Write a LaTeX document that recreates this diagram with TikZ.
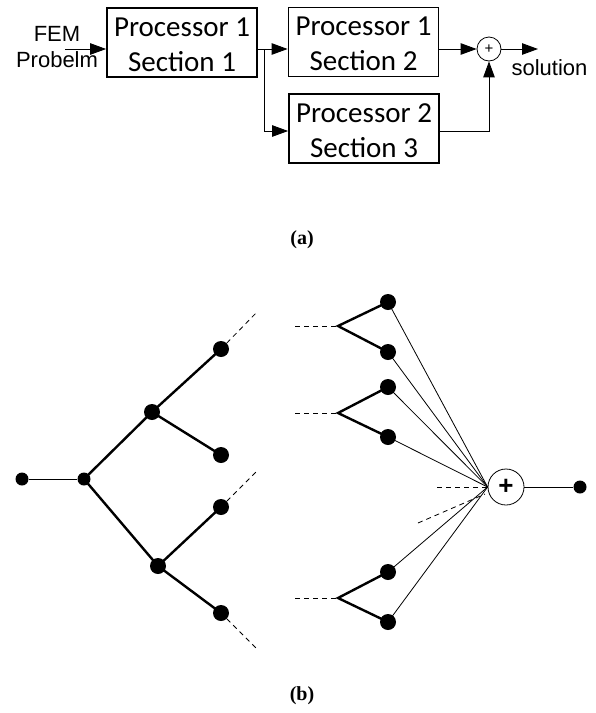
\documentclass[tikz,border=0pt]{standalone}
\usepackage{fontspec}
\setmainfont{Liberation Serif}
\newfontfamily\calfont{Carlito}
\newfontfamily\arialfont{Liberation Sans}
\usetikzlibrary{arrows.meta}
\newcommand{\topstrut}{\rule{0pt}{23pt}}
\begin{document}
\begin{tikzpicture}[x=1pt,y=-1pt,
  box/.style={draw, line width=1.8pt, minimum width=150pt, minimum height=69pt, inner sep=0pt, align=center, font=\calfont\fontsize{29}{35}\selectfont},
  conn/.style={line width=0.9pt},
  arr/.style={conn, -{Triangle[length=16pt,width=11.5pt]}},
  lbl/.style={font=\arialfont\fontsize{22}{26}\selectfont, align=center, inner sep=0pt},
  caplabel/.style={font=\bfseries\fontsize{20}{24}\selectfont, inner sep=0pt},
  bigdot/.style={circle, fill, inner sep=0pt, minimum size=16pt},
  smalldot/.style={circle, fill, inner sep=0pt, minimum size=13pt},
  treeedge/.style={line width=2.4pt},
  thinedge/.style={line width=0.8pt},
  dashedge/.style={line width=0.8pt, dash pattern=on 5pt off 4pt}
]
\useasboundingbox (0,0) rectangle (596,713);
% ---------- (a) ----------
\node[box] (p1) at (182,42.5) {\topstrut Processor 1\\Section 1};
\node[box] (p2) at (363.5,42) {\topstrut Processor 1\\Section 2};
\node[box] (p3) at (364,128.5) {\topstrut Processor 2\\Section 3};
\node[lbl] (fem) at (57,47) {FEM\\Probelm};
\coordinate (in) at (65,49);
\coordinate (j) at (264,49);
\coordinate (j3) at (264,131);
\node[circle, draw, line width=0.8pt, minimum size=24pt, inner sep=0pt, font=\arialfont\fontsize{15}{16}\selectfont] (s) at (489,49) {+};
\coordinate (k3) at (489,131);
\coordinate (out) at (538,49);
\node[lbl, anchor=base] (sol) at (549.5,75) {solution};
\draw[arr] (in) -- (p1.west |- in);
\draw[conn] (p1.east |- j) -- (j);
\draw[arr] (j) -- (p2.west |- j);
\draw[arr] (j) -- (j3) -- (p3.west |- j3);
\draw[arr] (p2.east |- s) -- (s.west);
\draw[arr] (p3.east |- k3) -- (k3) -- (s.south);
\draw[arr] (s.east) -- (out);
\node[caplabel] (ca) at (302,240) {(a)};
% ---------- (b) ----------
\node[smalldot] (a0) at (22,479) {};
\node[smalldot] (r) at (84,479) {};
\node[bigdot] (m1) at (152,412) {};
\node[bigdot] (m2) at (158,566) {};
\node[bigdot] (l1) at (221,349) {};
\node[bigdot] (l2) at (221,455) {};
\node[bigdot] (l3) at (221,507) {};
\node[bigdot] (l4) at (221,613) {};
\coordinate (e1) at (258,311);
\coordinate (e3) at (258,470);
\coordinate (e4) at (258,650);
\draw[thinedge] (a0) -- (r);
\draw[treeedge] (r.center) -- (m1.center) -- (l1.center);
\draw[treeedge] (m1.center) -- (l2.center);
\draw[treeedge] (r.center) -- (m2.center) -- (l3.center);
\draw[treeedge] (m2.center) -- (l4.center);
\draw[dashedge] (l1) -- (e1);
\draw[dashedge] (l3) -- (e3);
\draw[dashedge] (l4) -- (e4);
% right groups
\node[bigdot] (g1a) at (388,302) {};
\node[bigdot] (g1b) at (388,352) {};
\node[bigdot] (g2a) at (388,387) {};
\node[bigdot] (g2b) at (388,437) {};
\node[bigdot] (g3a) at (388,572) {};
\node[bigdot] (g3b) at (388,622) {};
\coordinate (q1) at (338,326);
\coordinate (q2) at (338,413);
\coordinate (q3) at (338,598);
\coordinate (f1) at (295,326);
\coordinate (f2) at (295,413);
\coordinate (f3) at (295,598);
\foreach \q/\f/\a/\b in {q1/f1/g1a/g1b, q2/f2/g2a/g2b, q3/f3/g3a/g3b}{
  \draw[dashedge] (\f) -- (\q);
  \draw[treeedge] (\a.center) -- (\q) -- (\b.center);
}
\node[circle, draw, line width=0.8pt, minimum size=36pt, inner sep=0pt, font=\arialfont\bfseries\fontsize{26}{28}\selectfont] (S) at (506,487) {+};
\foreach \g in {g1a,g1b,g2a,g2b,g3a,g3b}{
  \draw[thinedge] (\g.center) -- (S.west);
}
\coordinate (h1) at (437,487);
\coordinate (h2) at (418,523);
\coordinate (h2e) at (485,494);
\draw[dashedge] (h1) -- (S.west);
\draw[dashedge] (h2) -- (h2e);
\node[smalldot] (o) at (580,487) {};
\draw[thinedge] (S.east) -- (o);
\node[caplabel] (cb) at (302,696) {(b)};
\end{tikzpicture}
\end{document}
